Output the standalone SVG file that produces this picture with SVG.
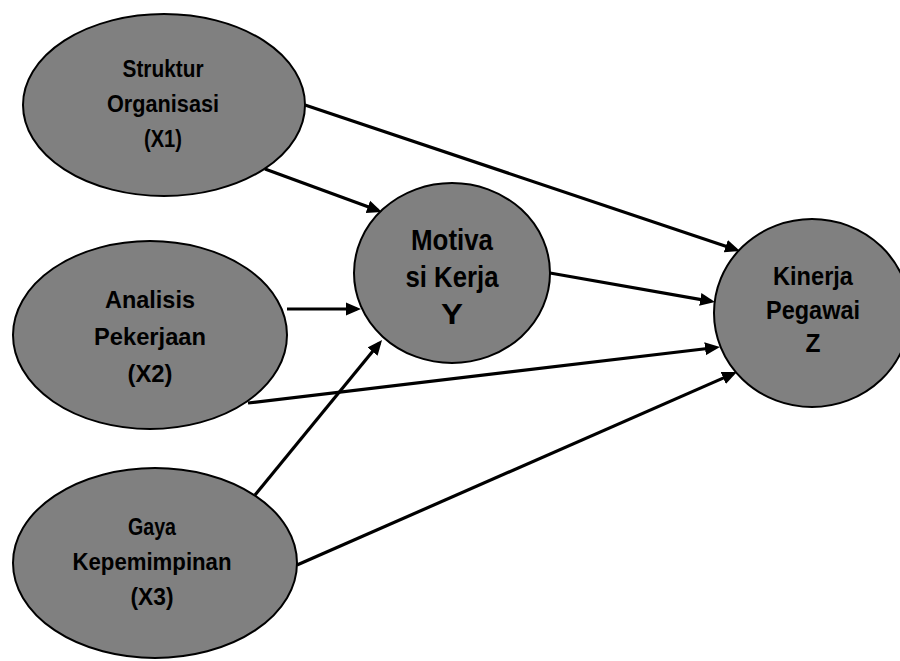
<svg xmlns="http://www.w3.org/2000/svg" width="900" height="661" viewBox="0 0 900 661">
<style>
.node ellipse{fill:#808080;stroke:#000;stroke-width:2}
.node text{font-family:"Liberation Sans Narrow","Liberation Sans",Arial,sans-serif;font-weight:bold;fill:#000;text-anchor:middle}
.s{font-size:23px}
.m{font-size:24px}
.l{font-size:29px}
.z{font-size:26px}
#connectors line{stroke:#000;stroke-width:3.2;marker-end:url(#arr)}
</style>
<defs>
<marker id="arr" markerUnits="userSpaceOnUse" markerWidth="17" markerHeight="15" refX="11" refY="7.5" orient="auto" viewBox="0 0 17 15">
<path d="M0,1 L15,7.5 L0,14 z" fill="#000"/>
</marker>
</defs>
<rect width="900" height="661" fill="#fff"/>
<g id="n_x1" class="node">
<ellipse cx="164" cy="105" rx="141" ry="91"/>
<text class="s" x="163" y="77" textLength="81" lengthAdjust="spacingAndGlyphs">Struktur</text>
<text class="s" x="163" y="112" textLength="112" lengthAdjust="spacingAndGlyphs">Organisasi</text>
<text class="s" x="163" y="147" textLength="38" lengthAdjust="spacingAndGlyphs">(X1)</text>
</g>
<g id="n_x2" class="node">
<ellipse cx="150" cy="335" rx="137" ry="94"/>
<text class="m" x="150" y="308" textLength="90" lengthAdjust="spacingAndGlyphs">Analisis</text>
<text class="m" x="150" y="345" textLength="112" lengthAdjust="spacingAndGlyphs">Pekerjaan</text>
<text class="m" x="150" y="382" textLength="45" lengthAdjust="spacingAndGlyphs">(X2)</text>
</g>
<g id="n_x3" class="node">
<ellipse cx="155" cy="563" rx="142" ry="95"/>
<text class="s" x="152" y="535" textLength="48" lengthAdjust="spacingAndGlyphs">Gaya</text>
<text class="s" x="152" y="570" textLength="159" lengthAdjust="spacingAndGlyphs">Kepemimpinan</text>
<text class="s" x="152" y="605" textLength="43" lengthAdjust="spacingAndGlyphs">(X3)</text>
</g>
<g id="n_y" class="node">
<ellipse cx="452" cy="273" rx="98" ry="90"/>
<text class="l" x="452" y="250" textLength="82" lengthAdjust="spacingAndGlyphs">Motiva</text>
<text class="l" x="452" y="287" textLength="93" lengthAdjust="spacingAndGlyphs">si Kerja</text>
<text class="l" x="452" y="324" textLength="22" lengthAdjust="spacingAndGlyphs">Y</text>
</g>
<g id="n_z" class="node">
<ellipse cx="812" cy="313" rx="98" ry="94"/>
<text class="z" x="813" y="285" textLength="80" lengthAdjust="spacingAndGlyphs">Kinerja</text>
<text class="z" x="813" y="319" textLength="94" lengthAdjust="spacingAndGlyphs">Pegawai</text>
<text class="z" x="813" y="352" textLength="15" lengthAdjust="spacingAndGlyphs">Z</text>
</g>
<g id="connectors">
<line x1="305" y1="105" x2="736.2" y2="249.7"/>
<line x1="265" y1="169" x2="378.2" y2="210.6"/>
<line x1="287" y1="309" x2="357" y2="309"/>
<line x1="248" y1="403" x2="716" y2="347.5"/>
<line x1="255" y1="495" x2="379.5" y2="343.1"/>
<line x1="297" y1="565" x2="733.3" y2="373.6"/>
<line x1="550" y1="273" x2="711.1" y2="301.3"/>
</g>
</svg>
